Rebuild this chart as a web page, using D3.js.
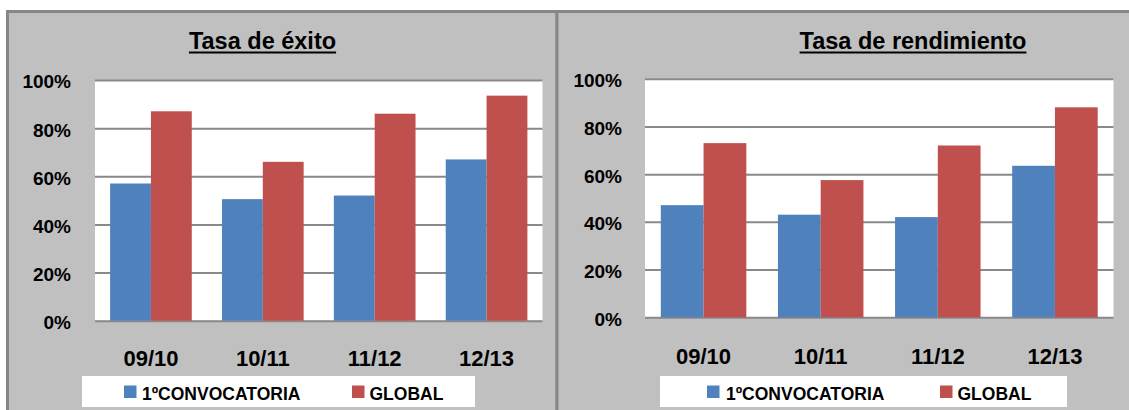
<!DOCTYPE html>
<html>
<head>
<meta charset="utf-8">
<script src="https://cdn.jsdelivr.net/npm/d3@7"></script>
<style>
  html, body { margin: 0; padding: 0; background: #ffffff; }
  svg { display: block; }
  text { font-family: "Liberation Sans", Arial, sans-serif; font-weight: bold; fill: #000; }
</style>
</head>
<body>
<svg id="chart" width="1129" height="410"></svg>
<script>
// ---- data ----
const categories = ["09/10", "10/11", "11/12", "12/13"];
const seriesNames = ["1ºCONVOCATORIA", "GLOBAL"];
const exitoPrimera = [57, 50.5, 52, 67];
const exitoGlobal = [87, 66, 86, 93.5];
const rendPrimera = [47, 43, 42, 63.5];
const rendGlobal = [73, 57.5, 72, 88];
const yTicks = [0, 20, 40, 60, 80, 100];
const titles = ["Tasa de éxito", "Tasa de rendimiento"];

const colors = ["#4F81BD", "#C0504D"];

const svg = d3.select("#chart");

// panels background + borders
const panels = [
  { px: 7.5, pw: 549.5 },
  { px: 557, pw: 575 }
];
panels.forEach(p => {
  svg.append("rect")
    .attr("x", p.px).attr("y", 11.5)
    .attr("width", p.pw).attr("height", 420)
    .attr("fill", "#c0c0c0")
    .attr("stroke", "#878787").attr("stroke-width", 3);
});

const layouts = [
  { title: titles[0], primera: exitoPrimera, global: exitoGlobal,
    x0: 95, x1: 542.5, yTop: 80, yBot: 320.7, titleX: 262.5, labelPad: 24, xLabelBase: 366,
    legend: { x: 82, w: 393, sq1: 124, t1: 142, sq2: 352, t2: 369.5 } },
  { title: titles[1], primera: rendPrimera, global: rendGlobal,
    x0: 645, x1: 1113.5, yTop: 78.7, yBot: 317.3, titleX: 913, labelPad: 23, xLabelBase: 364,
    legend: { x: 660, w: 407, sq1: 707, t1: 726, sq2: 940, t2: 957.5 } }
];

layouts.forEach(L => {
  const g = svg.append("g");
  const data = categories.map((c, i) => ({ cat: c, vals: [L.primera[i], L.global[i]] }));

  const x = d3.scaleBand().domain(categories).range([L.x0, L.x1])
    .paddingInner(0.27).paddingOuter(0.135);
  const xs = d3.scaleBand().domain(seriesNames).range([0, x.bandwidth()]);
  const y = d3.scaleLinear().domain([0, 100]).range([L.yBot, L.yTop]);

  // plot area
  g.append("rect").attr("x", L.x0).attr("y", L.yTop)
    .attr("width", L.x1 - L.x0).attr("height", L.yBot - L.yTop)
    .attr("fill", "#ffffff");

  // y axis with gridlines
  const yAxis = g.append("g").attr("transform", `translate(${L.x0},0)`)
    .call(d3.axisLeft(y).tickValues(yTicks).tickFormat(d => d + "%")
      .tickSizeInner(-(L.x1 - L.x0)).tickSizeOuter(0).tickPadding(L.labelPad));
  yAxis.select(".domain").remove();
  yAxis.selectAll(".tick line").attr("stroke", "#898989").attr("stroke-width", 2);
  yAxis.selectAll(".tick text")
    .attr("font-size", 19).attr("font-family", "Liberation Sans, Arial, sans-serif")
    .attr("font-weight", "bold").attr("fill", "#000")
    .attr("dy", "0.42em");

  // bars
  const groups = g.selectAll(".grp").data(data).enter().append("g")
    .attr("transform", d => `translate(${x(d.cat)},0)`);
  groups.selectAll("rect").data(d => d.vals.map((v, i) => ({ s: seriesNames[i], v, i })))
    .enter().append("rect")
    .attr("x", d => xs(d.s))
    .attr("y", d => y(d.v))
    .attr("width", xs.bandwidth())
    .attr("height", d => y(0) - y(d.v))
    .attr("fill", d => colors[d.i]);

  // x axis
  const xAxis = g.append("g").attr("transform", `translate(0,${L.yBot})`)
    .call(d3.axisBottom(x).tickSize(0));
  xAxis.select(".domain").remove();
  xAxis.selectAll(".tick text")
    .attr("font-size", 22).attr("font-family", "Liberation Sans, Arial, sans-serif")
    .attr("font-weight", "bold").attr("fill", "#000")
    .attr("dy", null).attr("y", L.xLabelBase - L.yBot);

  // title with underline
  const t = g.append("text").attr("x", L.titleX).attr("y", 48.5)
    .attr("text-anchor", "middle").attr("font-size", 23.5).text(L.title);
  const bb = t.node().getBBox();
  g.append("rect").attr("x", bb.x).attr("y", 51.5).attr("width", bb.width).attr("height", 2)
    .attr("fill", "#000");

  // legend
  const lg = L.legend;
  g.append("rect").attr("x", lg.x).attr("y", 376).attr("width", lg.w).attr("height", 31)
    .attr("fill", "#ffffff");
  [[lg.sq1, lg.t1], [lg.sq2, lg.t2]].forEach((pos, i) => {
    g.append("rect").attr("x", pos[0]).attr("y", 385.5).attr("width", 12.5).attr("height", 12.5)
      .attr("fill", colors[i]);
    g.append("text").attr("x", pos[1]).attr("y", 400).attr("font-size", 17.5).text(seriesNames[i]);
  });
});
</script>
</body>
</html>
